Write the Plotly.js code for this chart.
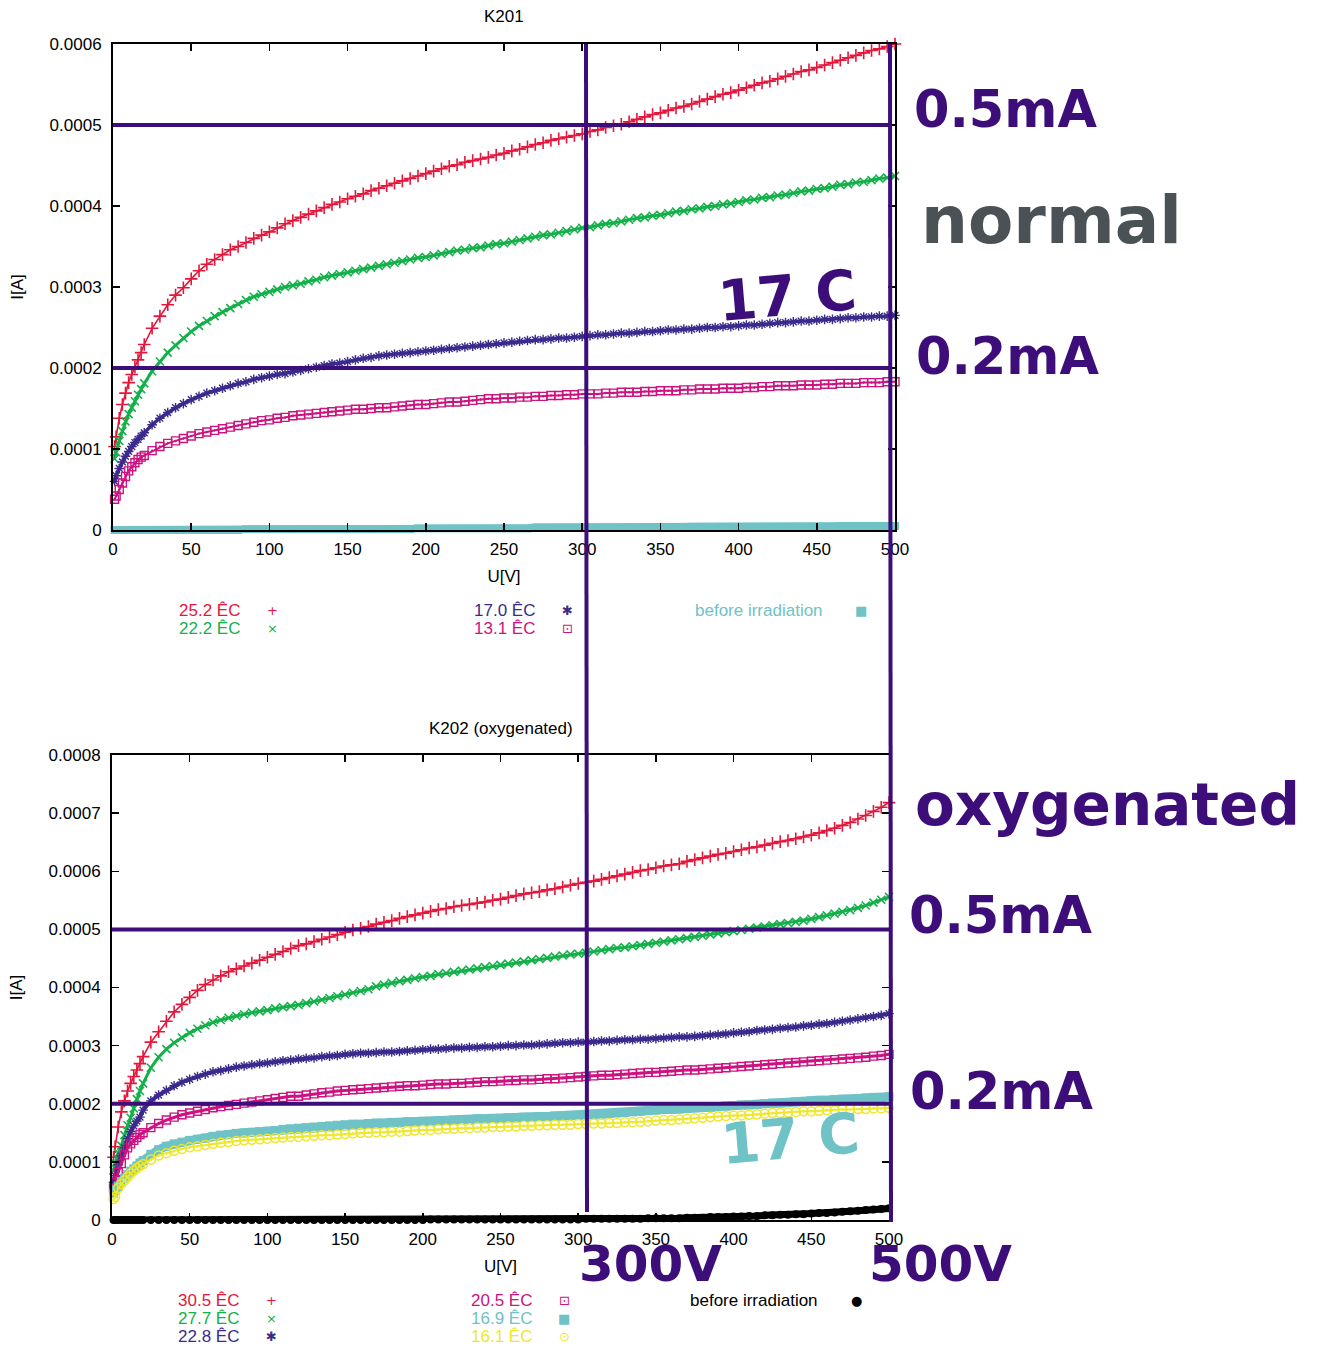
<!DOCTYPE html>
<html><head><meta charset="utf-8">
<script src="https://cdn.plot.ly/plotly-3.0.1.min.js"></script>
<style>html,body{margin:0;padding:0;background:#fff}</style>
</head><body><div id="chart" style="width:1320px;height:1347px"></div>
<script>
// ---------------- DATA (currents in microamps, converted to A below) ----------------
const voltage = [
  1,2,4,6,8,10,12,14,16,18,
  20,25,30,35,40,45,50,55,60,65,
  70,75,80,85,90,95,100,105,110,115,
  120,125,130,135,140,145,150,155,160,165,
  170,175,180,185,190,195,200,205,210,215,
  220,225,230,235,240,245,250,255,260,265,
  270,275,280,285,290,295,300,305,310,315,
  320,325,330,335,340,345,350,355,360,365,
  370,375,380,385,390,395,400,405,410,415,
  420,425,430,435,440,445,450,455,460,465,
  470,475,480,485,490,495,500];

// K201 (normal)
const k201_252C_uA = [
  103,115,138,155,169,182,192,201,210,219,
  229,249,264,278,290,299,310,320,328,334,
  340,346,350,355,360,364,368,373,378,382,
  386,390,394,398,402,405,409,412,415,419,
  422,425,428,431,434,437,440,443,446,449,
  451,454,456,458,460,463,465,468,470,473,
  476,478,481,483,485,487,489,492,494,497,
  499,501,504,507,510,513,515,518,521,523,
  526,529,532,535,538,540,543,546,549,552,
  554,557,560,563,566,568,571,574,577,580,
  583,586,589,592,594,597,600];
const k201_222C_uA = [
  88,96,110,122,134,143,151,159,167,174,
  181,196,208,219,228,237,245,252,258,264,
  269,274,279,284,288,291,294,297,300,302,
  304,307,309,312,314,316,318,320,322,324,
  326,328,330,332,334,336,337,339,341,343,
  345,346,348,349,351,353,354,356,358,360,
  362,364,365,367,369,371,373,374,376,378,
  379,381,383,385,386,388,389,391,393,394,
  396,397,399,400,402,403,405,407,408,410,
  411,413,414,416,418,419,421,422,424,426,
  427,429,430,432,434,435,437];
const k201_170C_uA = [
  60,67,76,84,91,97,103,108,112,116,
  120,130,138,145,151,156,161,165,169,172,
  175,178,181,183,186,188,190,192,193,195,
  197,199,201,203,205,206,208,210,212,213,
  215,216,217,218,219,220,221,222,223,224,
  225,226,227,228,229,230,231,232,233,234,
  235,235,236,237,237,238,239,240,241,241,
  242,243,243,244,245,245,246,247,247,248,
  248,249,250,250,251,251,252,253,253,254,
  255,256,256,257,258,258,259,260,260,261,
  262,262,263,263,264,264,265];
const k201_131C_uA = [
  38,42,50,58,66,73,78,83,87,90,
  92,98,103,107,110,113,116,119,121,123,
  125,127,129,131,133,135,136,138,139,141,
  142,143,144,145,146,147,148,149,149,150,
  151,151,152,153,154,155,155,156,157,158,
  158,159,160,161,162,162,163,163,164,164,
  165,165,166,166,167,167,168,168,168,169,
  169,170,170,170,171,171,172,172,172,173,
  173,174,174,174,175,175,175,176,176,177,
  177,178,178,178,179,179,179,180,180,181,
  181,181,182,182,182,183,183];
const k201_before_uA = [
  0,0,0,0,0,0,0,0,0,0,
  0,0,0,0,0,0,0,0,0,0,
  0,0,0,1,1,1,1,1,1,1,
  1,1,1,1,1,1,1,1,1,1,
  1,1,1,1,1,2,2,2,2,2,
  2,2,2,2,2,2,2,2,2,2,
  3,3,3,3,3,3,3,3,3,3,
  3,3,3,3,3,3,3,3,3,3,
  4,4,4,4,4,4,4,4,4,4,
  4,4,4,4,4,4,4,4,4,5,
  5,5,5,5,5,5,5];

// K202 (oxygenated)
const k202_305C_uA = [
  108,126,160,186,205,222,235,247,258,269,
  281,306,324,342,358,371,383,395,405,413,
  420,427,432,437,442,447,452,457,462,467,
  472,475,479,483,487,491,495,499,502,505,
  509,512,515,519,522,525,528,531,534,536,
  539,541,543,545,547,550,552,555,558,561,
  563,565,568,570,573,576,579,581,583,586,
  589,592,595,598,601,603,606,609,611,613,
  617,620,623,626,629,631,634,637,640,642,
  645,648,651,653,656,659,662,666,670,674,
  679,684,690,696,703,710,718];
const k202_277C_uA = [
  85,98,115,128,146,163,176,192,208,222,
  235,262,280,294,305,314,322,329,335,340,
  344,348,351,354,357,359,361,364,366,368,
  370,373,376,379,382,385,388,391,394,397,
  402,405,408,411,413,416,418,420,423,425,
  427,429,431,433,435,437,439,441,443,445,
  447,449,451,453,455,457,458,460,462,464,
  466,468,469,471,473,475,477,479,481,483,
  485,487,489,491,493,495,497,499,501,503,
  505,507,509,511,513,515,518,521,524,527,
  530,533,537,541,546,551,556];
const k202_228C_uA = [
  65,76,95,110,124,140,152,162,170,177,
  189,205,215,223,231,237,242,247,251,255,
  257,260,263,265,267,269,270,272,274,275,
  277,278,279,281,282,283,285,286,287,287,
  288,289,289,290,291,292,293,294,294,295,
  296,296,297,297,298,298,299,300,300,301,
  301,302,303,304,305,305,306,306,307,308,
  308,309,310,310,311,311,312,313,314,315,
  315,316,317,318,319,320,322,323,324,326,
  327,328,330,331,332,334,335,337,338,340,
  342,344,346,348,350,352,355];
const k202_205C_uA = [
  55,65,82,97,112,124,131,137,142,147,
  150,159,166,172,177,181,184,187,190,193,
  195,197,199,201,203,205,207,209,211,213,
  213,215,217,219,220,222,223,224,225,226,
  227,228,229,230,231,231,232,233,234,234,
  235,235,236,237,238,238,239,240,240,241,
  241,242,243,243,244,245,246,247,248,249,
  249,250,251,252,253,254,254,255,256,257,
  258,258,259,260,261,262,263,264,265,266,
  267,268,269,270,271,272,273,274,275,276,
  277,278,279,280,282,283,285];
const k202_169C_uA = [
  46,51,58,66,72,78,84,88,93,98,
  102,113,121,127,131,134,137,139,141,144,
  146,147,149,150,151,152,153,154,156,157,
  158,159,160,161,162,163,164,165,165,166,
  167,167,168,168,169,169,170,170,171,171,
  172,173,173,174,174,175,175,176,176,177,
  177,178,178,179,179,180,180,181,181,182,
  183,184,185,186,187,188,189,190,190,191,
  192,193,194,194,195,196,197,198,198,199,
  200,201,201,202,203,204,205,206,206,207,
  208,208,209,210,211,211,212];
const k202_161C_uA = [
  36,40,55,62,68,74,80,85,89,93,
  96,104,111,115,119,122,125,127,129,131,
  133,134,136,137,138,139,140,141,142,143,
  143,144,145,146,146,147,148,149,150,150,
  151,151,152,152,153,154,155,155,156,157,
  157,158,158,159,159,160,160,161,161,162,
  162,163,163,164,164,164,165,165,166,166,
  167,167,168,168,169,170,171,172,172,173,
  174,175,176,177,178,179,180,180,181,182,
  183,184,184,185,186,187,187,188,189,189,
  190,190,191,191,192,192,193];
const k202_before_uA = [
  0,0,0,0,0,0,0,0,0,0,
  0,0,0,0,0,0,0,0,0,0,
  0,0,0,0,0,0,0,0,0,0,
  0,0,0,0,0,0,0,0,0,0,
  0,0,0,0,0,0,0,1,1,1,
  1,1,1,1,1,1,1,1,1,1,
  1,1,1,1,1,1,1,2,2,2,
  2,2,2,2,2,3,3,3,3,3,
  4,4,4,5,5,5,6,6,7,7,
  8,8,9,9,10,10,11,12,12,13,
  14,15,16,17,18,19,20];

const k201Labels = ['25.2 ÊC','22.2 ÊC','17.0 ÊC','13.1 ÊC','before irradiation'];
const k202Labels = ['30.5 ÊC','27.7 ÊC','22.8 ÊC','20.5 ÊC','16.9 ÊC','16.1 ÊC','before irradiation'];

const xTickVals = [0,50,100,150,200,250,300,350,400,450,500];
const yTickValsTop = [0,0.0001,0.0002,0.0003,0.0004,0.0005,0.0006];
const yTickTextTop = ['0','0.0001','0.0002','0.0003','0.0004','0.0005','0.0006'];
const yTickValsBot = [0,0.0001,0.0002,0.0003,0.0004,0.0005,0.0006,0.0007,0.0008];
const yTickTextBot = ['0','0.0001','0.0002','0.0003','0.0004','0.0005','0.0006','0.0007','0.0008'];

const markLevels = [0.0005, 0.0002];   // 0.5 mA / 0.2 mA guide lines

// ---------------- STYLE ----------------
const W = 1320, H = 1347;
const px = v => v / W, py = v => 1 - v / H;
const RED = '#e3173b', GREEN = '#14b04a', INDIGO = '#3b2a8c', MAGENTA = '#cc1380',
      TEAL = '#6fc2c6', YELLOW = '#eee72c', BLACK = '#000000';
const OVER = '#3d0d7a', GREYTXT = '#4a5256';
const FONT = 'Liberation Sans, Arial, sans-serif';
const BIG = 'DejaVu Sans, Verdana, sans-serif';
const toA = arr => arr.map(v => v * 1e-6);

function tr(y, color, symbol, size, xa, ya, lw, bandW) {
  return {
    x: voltage, y: toA(y), type: 'scatter', mode: 'lines+markers', xaxis: xa, yaxis: ya,
    cliponaxis: false, showlegend: false, hoverinfo: 'skip',
    line: { color: color, width: bandW, shape: 'linear' },
    marker: { symbol: symbol, size: size, color: color, line: { color: color, width: lw } }
  };
}

const data = [
  tr(k201_252C_uA, RED, 'cross-thin-open', 9, 'x', 'y', 1.6, 1.6),
  tr(k201_222C_uA, GREEN, 'x-thin-open', 8, 'x', 'y', 1.6, 3),
  tr(k201_170C_uA, INDIGO, 'asterisk-open', 8, 'x', 'y', 1.4, 3.5),
  tr(k201_131C_uA, MAGENTA, 'square-open-dot', 8, 'x', 'y', 1.4, 2),
  tr(k201_before_uA, TEAL, 'square', 8, 'x', 'y', 0, 8),
  tr(k202_305C_uA, RED, 'cross-thin-open', 9, 'x2', 'y2', 1.6, 1.6),
  tr(k202_277C_uA, GREEN, 'x-thin-open', 8, 'x2', 'y2', 1.6, 3),
  tr(k202_228C_uA, INDIGO, 'asterisk-open', 8, 'x2', 'y2', 1.4, 4),
  tr(k202_205C_uA, MAGENTA, 'square-open-dot', 8, 'x2', 'y2', 1.4, 3),
  tr(k202_169C_uA, TEAL, 'square', 9, 'x2', 'y2', 0, 9),
  tr(k202_161C_uA, YELLOW, 'circle-open-dot', 9, 'x2', 'y2', 1.5, 2),
  tr(k202_before_uA, BLACK, 'circle', 8, 'x2', 'y2', 0, 7)
];

function axisBase() {
  return {
    showgrid: false, zeroline: false, showline: true, linecolor: '#000', linewidth: 2,
    mirror: 'ticks', ticks: 'inside', ticklen: 7, tickwidth: 1.5, tickcolor: '#000',
    tickfont: { family: FONT, size: 17, color: '#000' }, fixedrange: true
  };
}

const layout = {
  width: W, height: H, margin: { l: 0, r: 0, t: 0, b: 0 },
  paper_bgcolor: '#fff', plot_bgcolor: '#fff', showlegend: false,
  font: { family: FONT, size: 17, color: '#000' },
  xaxis: Object.assign(axisBase(), {
    domain: [px(113), px(895)], range: [0, 500], anchor: 'y', tickvals: xTickVals,
    ticklabelstandoff: 3,
    title: { text: 'U[V]', font: { family: FONT, size: 17 }, standoff: 12 }
  }),
  yaxis: Object.assign(axisBase(), {
    domain: [py(530), py(44)], range: [0, 0.0006], anchor: 'x',
    tickvals: yTickValsTop, ticktext: yTickTextTop, ticklabelstandoff: 6,
    title: { text: 'I[A]', font: { family: FONT, size: 17 }, standoff: 22 }
  }),
  xaxis2: Object.assign(axisBase(), {
    domain: [px(112), px(889)], range: [0, 500], anchor: 'y2', tickvals: xTickVals,
    ticklabelstandoff: 3,
    title: { text: 'U[V]', font: { family: FONT, size: 17 }, standoff: 12 }
  }),
  yaxis2: Object.assign(axisBase(), {
    domain: [py(1220), py(755)], range: [0, 0.0008], anchor: 'x2',
    tickvals: yTickValsBot, ticktext: yTickTextBot, ticklabelstandoff: 6,
    title: { text: 'I[A]', font: { family: FONT, size: 17 }, standoff: 22 }
  }),
  shapes: [],
  annotations: []
};

// guide lines
const lineStyle = { color: OVER, width: 4 };
markLevels.forEach(lv => {
  layout.shapes.push({ type: 'line', xref: 'x', yref: 'y', x0: 0, x1: 497, y0: lv, y1: lv, line: lineStyle, layer: 'above' });
  layout.shapes.push({ type: 'line', xref: 'x2', yref: 'y2', x0: 0, x1: 500, y0: lv, y1: lv, line: lineStyle, layer: 'above' });
});
layout.shapes.push({ type: 'line', xref: 'paper', yref: 'paper', x0: px(586), x1: px(587), y0: py(44), y1: py(1212), line: lineStyle, layer: 'above' });
layout.shapes.push({ type: 'line', xref: 'paper', yref: 'paper', x0: px(890), x1: px(891), y0: py(44), y1: py(1222), line: lineStyle, layer: 'above' });

function ann(text, x, y, opts) {
  layout.annotations.push(Object.assign({
    text: text, xref: 'paper', yref: 'paper', x: px(x), y: py(y),
    xanchor: 'center', yanchor: 'middle', showarrow: false,
    font: { family: FONT, size: 17, color: '#000' }
  }, opts || {}));
}

// chart titles
ann('K201', 504, 17);
ann('K202 (oxygenated)', 501, 728);

// key (gnuplot style: label then sample)
function key(label, color, glyph, xr, xm, y) {
  ann(label, xr, y, { xanchor: 'right', font: { family: FONT, size: 17, color: color } });
  ann(glyph, xm, y, { font: { family: 'DejaVu Sans', size: 13, color: color } });
}
const topGlyphs = ['+', '×', '✱', '⊡', '■'];
const topColors = [RED, GREEN, INDIGO, MAGENTA, TEAL];
const topPos = [[242, 272, 610], [242, 272, 628], [537, 567, 610], [537, 567, 628], [825, 861, 610]];
k201Labels.forEach((l, i) => key(l, topColors[i], topGlyphs[i], topPos[i][0], topPos[i][1], topPos[i][2]));
const botGlyphs = ['+', '×', '✱', '⊡', '■', '⊙', '●'];
const botColors = [RED, GREEN, INDIGO, MAGENTA, TEAL, YELLOW, BLACK];
const botPos = [[241, 271, 1300], [241, 271, 1318], [241, 271, 1336], [534, 564, 1300], [534, 564, 1318], [534, 564, 1336], [820, 856, 1300]];
k202Labels.forEach((l, i) => key(l, botColors[i], botGlyphs[i], botPos[i][0], botPos[i][1], botPos[i][2]));

// hand-drawn overlay labels
const bigFont = (size, color) => ({ family: BIG, size: size, color: color, weight: 'bold' });
ann('<b>0.5mA</b>', 1005, 110, { font: bigFont(51, OVER) });
ann('<b>normal</b>', 1051, 220, { font: bigFont(66, GREYTXT) });
ann('<b>17 C</b>', 787, 295, { font: bigFont(56, OVER), textangle: -5 });
ann('<b>0.2mA</b>', 1007, 356, { font: bigFont(51, OVER) });
ann('<b>oxygenated</b>', 1107, 805, { font: bigFont(58, OVER) });
ann('<b>0.5mA</b>', 1000, 916, { font: bigFont(51, OVER) });
ann('<b>0.2mA</b>', 1001, 1091, { font: bigFont(51, OVER) });
ann('<b>17 C</b>', 790, 1138, { font: bigFont(56, TEAL), textangle: -5 });
ann('<b>300V</b>', 650, 1264, { font: bigFont(50, OVER) });
ann('<b>500V</b>', 940, 1264, { font: bigFont(50, OVER) });

Plotly.newPlot('chart', data, layout, { staticPlot: true, displayModeBar: false });
</script></body></html>
